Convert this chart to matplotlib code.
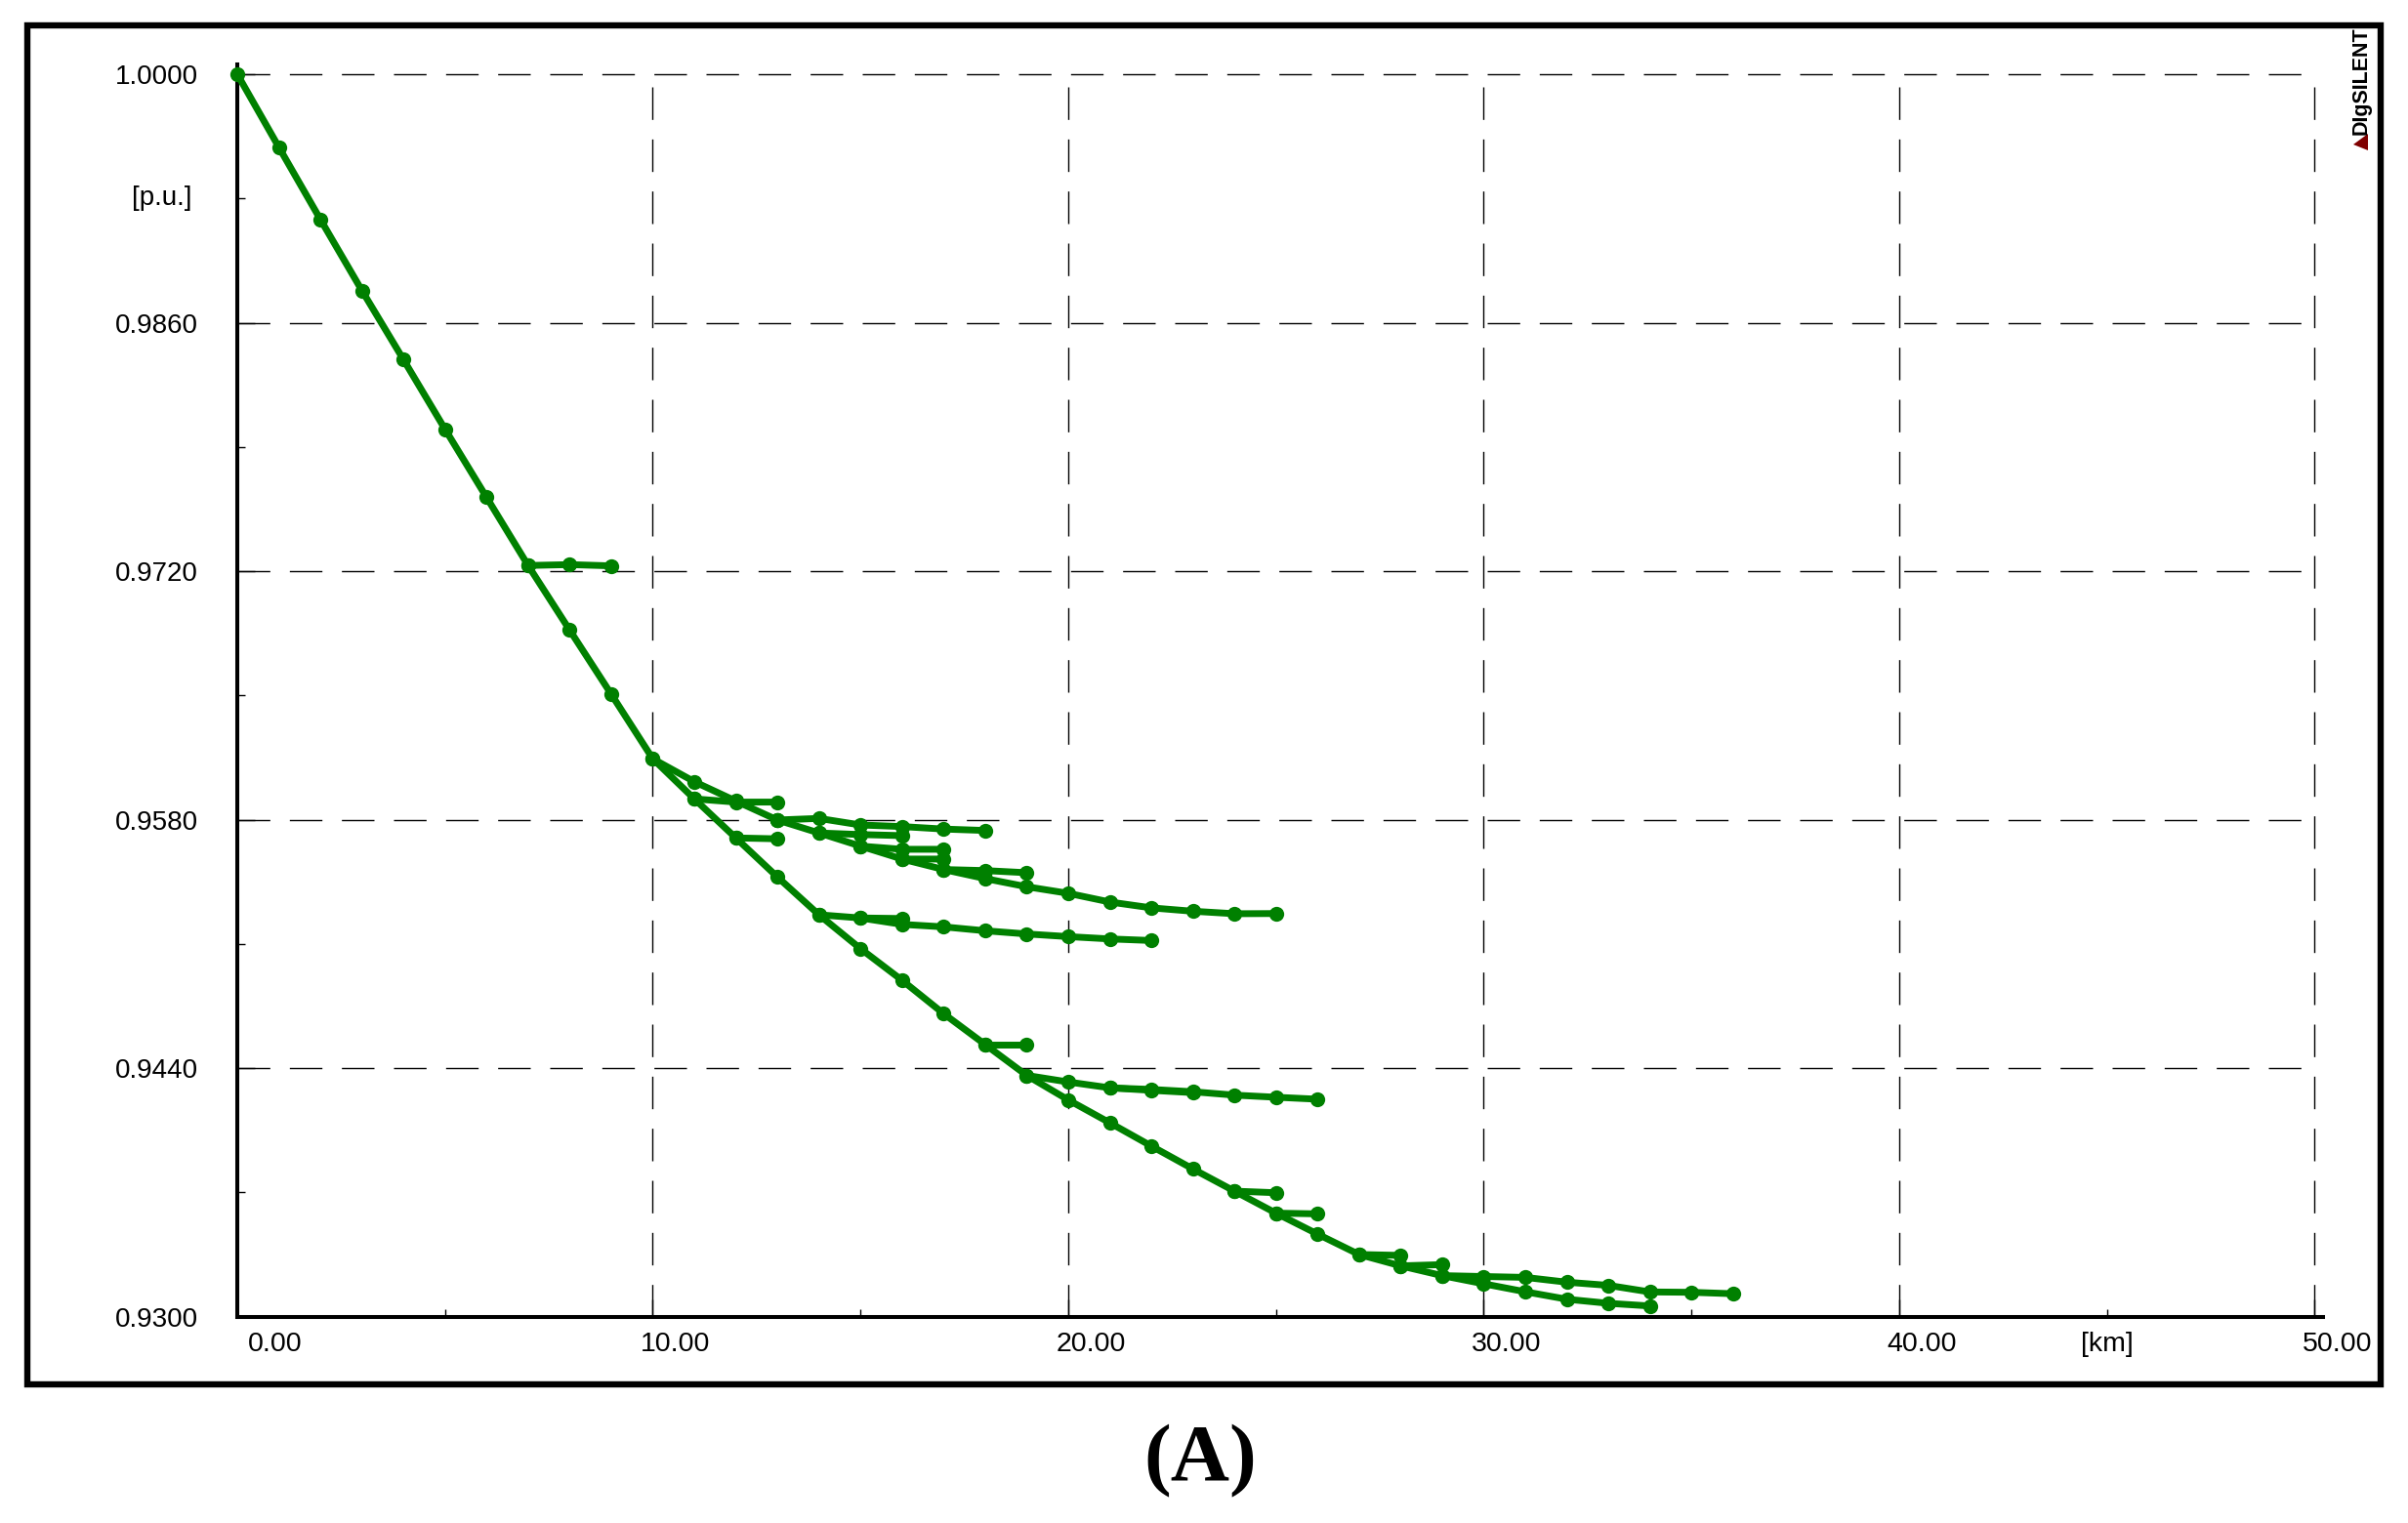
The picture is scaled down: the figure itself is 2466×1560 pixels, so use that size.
import matplotlib
matplotlib.use('Agg')
from matplotlib import pyplot as plt
from matplotlib import font_manager
from matplotlib.patches import Rectangle, Polygon
from matplotlib.transforms import ScaledTranslation


def has_font(name):
    try:
        font_manager.findfont(font_manager.FontProperties(family=name),
                              fallback_to_default=False)
        return True
    except ValueError:
        return False


# Voltage profile along the feeder: distance [km] vs voltage [p.u.]
main_km = list(range(0, 35))
main_pu = [1.0000, 0.99589, 0.99182, 0.98781, 0.98392, 0.98000, 0.97616,
           0.97232, 0.96868, 0.96507, 0.96143, 0.95917, 0.95697, 0.95477,
           0.95264, 0.95073, 0.94895, 0.94707, 0.94533, 0.94359, 0.94221,
           0.94092, 0.93961, 0.93832, 0.93707, 0.93583, 0.93465, 0.93350,
           0.93286, 0.93231, 0.93185, 0.93140, 0.93098, 0.93075, 0.93060]

# Laterals (each starts at the node it branches from)
b1_km = [7, 8, 9]
b1_pu = [0.97232, 0.97237, 0.97230]
b2_km = [10, 11, 12, 13]
b2_pu = [0.96143, 0.96014, 0.95905, 0.95798]
b3_km = [11, 12, 13]
b3_pu = [0.95917, 0.95899, 0.95899]
b4_km = [12, 13]
b4_pu = [0.95697, 0.95692]
b5_km = [13, 14, 15, 16, 17, 18]
b5_pu = [0.95798, 0.95807, 0.95770, 0.95761, 0.95747, 0.95739]
b6_km = [13, 14, 15, 16]
b6_pu = [0.95798, 0.95725, 0.95716, 0.95710]
b7_km = [14, 15, 16, 17]
b7_pu = [0.95725, 0.95651, 0.95633, 0.95633]
b8_km = [15, 16, 17]
b8_pu = [0.95651, 0.95578, 0.95578]
b9_km = [16, 17, 18, 19]
b9_pu = [0.95578, 0.95519, 0.95513, 0.95501]
b10_km = [17, 18, 19, 20, 21, 22, 23, 24, 25]
b10_pu = [0.95519, 0.95468, 0.95422, 0.95385, 0.95336, 0.95303, 0.95284,
          0.95270, 0.95271]
b11_km = [14, 15, 16]
b11_pu = [0.95264, 0.95246, 0.95243]
b12_km = [15, 16, 17, 18, 19, 20, 21, 22]
b12_pu = [0.95246, 0.95210, 0.95196, 0.95174, 0.95156, 0.95141, 0.95128,
          0.95119]
b13_km = [18, 19]
b13_pu = [0.94533, 0.94533]
b14_km = [19, 20, 21, 22, 23, 24, 25, 26]
b14_pu = [0.94359, 0.94322, 0.94289, 0.94280, 0.94267, 0.94248, 0.94236,
          0.94225]
b15_km = [21, 22, 23]
b15_pu = [0.94289, 0.94275, 0.94262]
b16_km = [24, 25]
b16_pu = [0.93707, 0.93698]
b17_km = [25, 26]
b17_pu = [0.93583, 0.93579]
b18_km = [27, 28]
b18_pu = [0.93350, 0.93345]
b19_km = [28, 29]
b19_pu = [0.93286, 0.93293]
b20_km = [29, 30, 31, 32, 33, 34, 35, 36]
b20_pu = [0.93231, 0.93226, 0.93221, 0.93194, 0.93176, 0.93139, 0.93137,
          0.93129]

x_ticks = [0, 10, 20, 30, 40, 50]
x_labels = ['0.00', '10.00', '20.00', '30.00', '40.00', '50.00']
x_minor = [5, 15, 25, 35, 45]
y_ticks = [0.930, 0.944, 0.958, 0.972, 0.986, 1.000]
y_labels = ['0.9300', '0.9440', '0.9580', '0.9720', '0.9860', '1.0000']
y_minor = [0.937, 0.951, 0.965, 0.979, 0.993]

GREEN = '#008000'
SANS = 'Liberation Sans'
if has_font('Liberation Sans Narrow'):
    NARROW, NARROW_SIZE = 'Liberation Sans Narrow', 25
else:
    NARROW, NARROW_SIZE = 'Liberation Sans', 20.5

plt.rcParams['lines.scale_dashes'] = False

fig = plt.figure(figsize=(24.66, 15.6), dpi=100)
ax = fig.add_axes([0.09854, 0.13551, 0.86618, 0.82218])
ax.set_xlim(0, 50.2)
ax.set_ylim(0.93, 1.00055)

# dashed grid, only inside the tick range
dash = (0, (24, 14.4))
ax.hlines(y_ticks[1:], 0, x_ticks[-1], colors='black', linewidth=1.0,
          linestyles=[dash], zorder=1)
ax.vlines(x_ticks[1:], y_ticks[0], y_ticks[-1], colors='black', linewidth=1.0,
          linestyles=[dash], zorder=1)

branches = [(main_km, main_pu), (b1_km, b1_pu), (b2_km, b2_pu), (b3_km, b3_pu),
            (b4_km, b4_pu), (b5_km, b5_pu), (b6_km, b6_pu), (b7_km, b7_pu),
            (b8_km, b8_pu), (b9_km, b9_pu), (b10_km, b10_pu),
            (b11_km, b11_pu), (b12_km, b12_pu), (b13_km, b13_pu),
            (b14_km, b14_pu), (b15_km, b15_pu), (b16_km, b16_pu),
            (b17_km, b17_pu), (b18_km, b18_pu), (b19_km, b19_pu),
            (b20_km, b20_pu)]
for km, pu in branches:
    ax.plot(km, pu, color=GREEN, linewidth=5, marker='o', markersize=11,
            markeredgewidth=0, zorder=3, clip_on=False)

for side in ['top', 'right']:
    ax.spines[side].set_visible(False)
for side in ['left', 'bottom']:
    ax.spines[side].set_linewidth(2.9)

ax.set_xticks(x_ticks, x_labels, fontfamily=NARROW, fontsize=NARROW_SIZE)
ax.set_xticks(x_minor, minor=True)
ax.set_yticks(y_ticks, y_labels, fontfamily=SANS, fontsize=20)
ax.set_yticks(y_minor, minor=True)
ax.tick_params(axis='both', which='both', direction='in', width=1.0,
               color='black')
ax.tick_params(axis='both', which='major', length=13)
ax.tick_params(axis='both', which='minor', length=6)
ax.tick_params(axis='y', which='major', pad=28.8)
ax.tick_params(axis='x', which='major', pad=11)

# x labels sit a bit to the right of their ticks
for i, lbl in enumerate(ax.get_xticklabels()):
    dx = 0.39 if i == 0 else 0.23
    lbl.set_transform(lbl.get_transform() + ScaledTranslation(dx, 0, fig.dpi_scale_trans))

# unit labels
ax.annotate('[km]', xy=(45, 0), xycoords=('data', 'axes fraction'),
            xytext=(0, -11), textcoords='offset points', ha='center', va='top',
            fontfamily=NARROW, fontsize=NARROW_SIZE)
ax.annotate('[p.u.]', xy=(0, 0.993), xycoords=('axes fraction', 'data'),
            xytext=(-33.8, 0), textcoords='offset points', ha='right',
            va='center', fontfamily=SANS, fontsize=20)

# DIgSILENT mark
W, H = 2466.0, 1560.0
fig.text(2418 / W, 1 - 83 / H, 'DIgSILENT', rotation=90, ha='center',
         va='center', fontfamily=SANS, fontweight='bold', fontsize=15.5)
tri = [(2410 / W, 1 - 148 / H), (2425 / W, 1 - 137 / H), (2425 / W, 1 - 154 / H)]
fig.patches.append(Polygon(tri, closed=True, transform=fig.transFigure,
                           facecolor='#800000', edgecolor='none'))

# outer frame
fig.patches.append(Rectangle((28 / W, 1 - 1418 / H), (2438 - 28) / W,
                             (1418 - 26) / H, transform=fig.transFigure,
                             fill=False, edgecolor='black', linewidth=4.6))

fig.text(1229 / W, 1 - 1497 / H, '(A)', ha='center', va='center',
         fontfamily='Liberation Serif', fontweight='bold', fontsize=60)

fig.savefig('out.png', dpi=100, facecolor='white')
